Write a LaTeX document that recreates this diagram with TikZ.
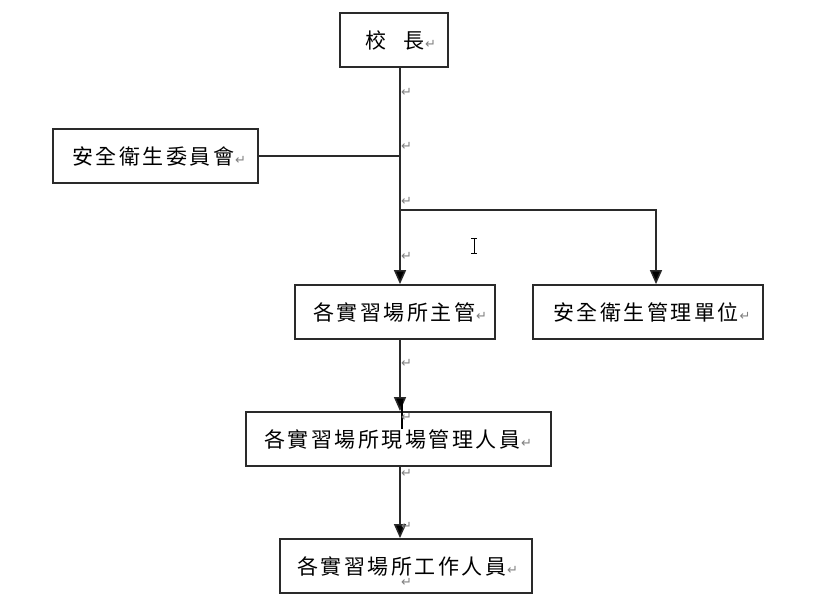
\documentclass[tikz,border=0pt]{standalone}
\usepackage{fontspec}
\newfontfamily\cjk{Noto Sans CJK TC}
\newfontfamily\dv{DejaVu Sans}
\usetikzlibrary{arrows.meta}
\definecolor{retgray}{HTML}{808080}
\definecolor{ink}{HTML}{2A2A2A}
\newcommand\ret{{\dv\fontsize{13}{13}\selectfont\color{retgray}↵}}
\newcommand\gk{\kern2.5pt}
\tikzset{
  box/.style={draw=ink, line width=1.8pt, minimum height=54pt, inner sep=0pt, fill=white},
  lbl/.style={inner sep=0pt, anchor=west, font=\cjk\fontsize{21}{21}\selectfont},
  retmark/.style={inner sep=0pt, anchor=west},
  line/.style={draw=ink, line width=1.5pt},
  conn/.style={line, -{Triangle[width=12pt,length=14pt,fill=black]}},
}
\begin{document}
\begin{tikzpicture}[x=1pt,y=-1pt]
\useasboundingbox (0,0) rectangle (814,606);
\fill[white] (0,0) rectangle (814,606);
\coordinate (spine) at (400,0);
\coordinate (rx) at (656,0);
\coordinate (br) at (400,210);
% boxes
\node[box, minimum width=108pt] (xz) at (394,40) {};
\node[box, minimum width=205pt] (wy) at (155.5,156) {};
\node[box, minimum width=200pt] (zg) at (395,312) {};
\node[box, minimum width=230pt] (gl) at (648,312) {};
\node[box, minimum width=305pt] (xc) at (398.5,439) {};
\node[box, minimum width=252pt] (gz) at (406,566) {};
% labels
\node[lbl] (xzt) at (365,40) {校\kern17pt長\kern1pt\ret};
\node[lbl] (wyt) at (72,156) {安\gk 全\gk 衛\gk 生\gk 委\gk 員\gk 會\kern1pt\ret};
\node[lbl] (zgt) at (313,312) {各\gk 實\gk 習\gk 場\gk 所\gk 主\gk 管\kern1pt\ret};
\node[lbl] (glt) at (553,312) {安\gk 全\gk 衛\gk 生\gk 管\gk 理\gk 單\gk 位\kern1pt\ret};
\node[lbl] (xct) at (264,439) {各\gk 實\gk 習\gk 場\gk 所\gk 現\gk 場\gk 管\gk 理\gk 人\gk 員\kern1pt\ret};
\node[lbl] (gzt) at (297,566) {各\gk 實\gk 習\gk 場\gk 所\gk 工\gk 作\gk 人\gk 員\kern1pt\ret};
% connectors
\draw[line] (wy.east) -- (wy.east -| spine);
\draw[conn] (br) -| (gl.north -| rx);
\draw[conn] (xz.south -| spine) -- (zg.north -| spine);
\draw[conn] (zg.south -| spine) -- (xc.north -| spine);
\draw[conn] (xc.south -| spine) -- (gz.north -| spine);
\draw[black, line width=2.6pt] (402,399) -- (402,429);
% paragraph marks
\foreach \yy/\nm in {92/r1,146/r2,201/r3,256/r4,363/r5,417/r6,473/r7,526/r8,582/r9}
  \node[retmark] (\nm) at (401,\yy) {\ret};
% text cursor
\draw[black, line width=1pt] (471,238) -- (477,238) (474,238) -- (474,253) (471,253) -- (477,253);
\end{tikzpicture}
\end{document}
